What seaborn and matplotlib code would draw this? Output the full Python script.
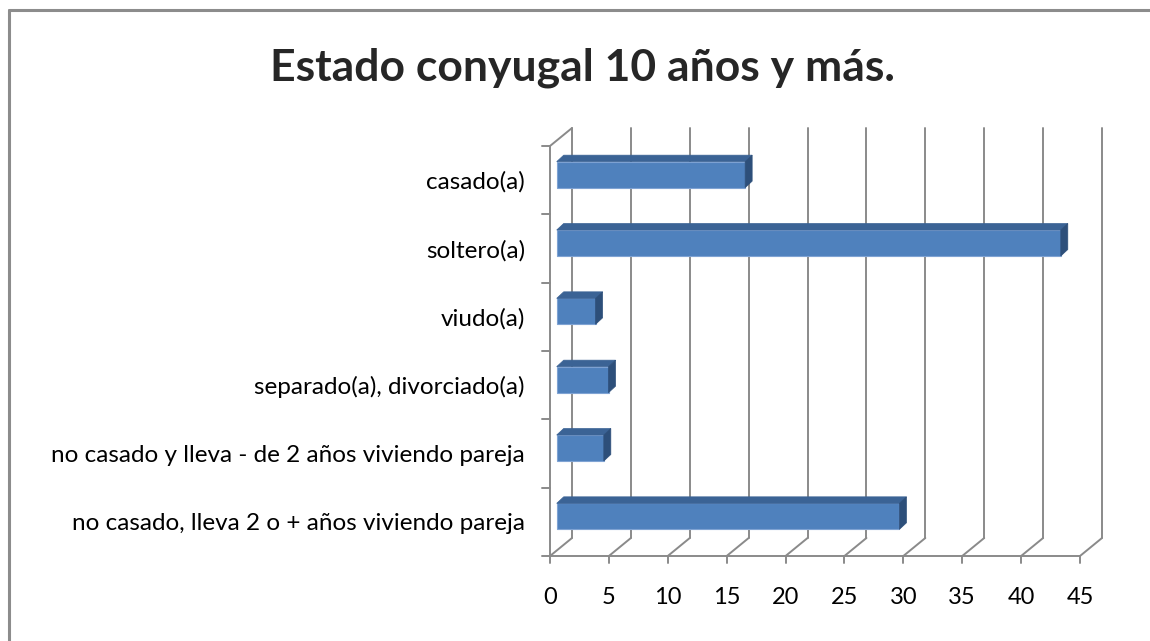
#! /bin/env python3
# pylint: disable=line-too-long,missing-docstring

import matplotlib
matplotlib.use("Agg")
import matplotlib.pyplot as plt
from matplotlib.patches import Polygon
from matplotlib.lines import Line2D
import seaborn as sns

categorias = ["casado(a)", "soltero(a)", "viudo(a)", "separado(a), divorciado(a)",
              "no casado y lleva - de 2 años viviendo pareja",
              "no casado, lleva 2 o + años viviendo pareja"]
valores = [16.0, 42.8, 3.3, 4.4, 4.0, 29.1]
xticks = [0, 5, 10, 15, 20, 25, 30, 35, 40, 45]

sns.set_style("white")
plt.rcParams["font.family"] = ["Lato", "DejaVu Sans"]

W, H = 1150, 641
fig = plt.figure(figsize=(W / 100, H / 100), dpi=100)

# plot box in pixels (front axis 0..45 -> 550..1080, back wall up to 1102)
L, R, B, T = 550, 1102, 556, 128
ax = fig.add_axes([L / W, 1 - B / H, (R - L) / W, (B - T) / H])
px_x = (1080 - 550) / 45.0
px_y = (556 - 146) / 6.0

sns.barplot(x=valores, y=categorias, orient="h", color="#4F81BD", width=26 / px_y,
            saturation=1, ax=ax, zorder=3)
ax.set_xlim(0, (R - L) / px_x)
ax.set_ylim(5.5, 5.5 - (B - T) / px_y)

dx, dy = 22 / px_x, 18 / px_y   # depth of the back wall
grid_kw = dict(color="#8a8a8a", lw=1.4, clip_on=False, zorder=1)
ybot, ytop = 5.5, -0.5
for v in xticks:
    ax.plot([v + dx, v + dx], [ybot - dy, ytop - dy], **grid_kw)
    ax.plot([v, v + dx], [ybot, ybot - dy], **grid_kw)
    ax.plot([v, v], [ybot, ybot + 7 / px_y], **grid_kw)
# left side wall and floor front edge
ax.plot([0, 0], [ybot, ytop], **grid_kw)
ax.plot([0, dx], [ytop, ytop - dy], **grid_kw)
ax.plot([0, xticks[-1]], [ybot, ybot], **grid_kw)
for k in range(len(categorias) + 1):
    ax.plot([-8 / px_x, 0], [k - 0.5, k - 0.5], **grid_kw)

off_x, off_y = 6.7 / px_x, -5.5 / px_y
d, e = 7 / px_x, 6.5 / px_y
for p in list(ax.patches):
    p.set_x(p.get_x() + off_x)
    p.set_y(p.get_y() + off_y)
    p.set_edgecolor("#7FA3D3")
    p.set_linewidth(0.8)
    x0, x1 = p.get_x(), p.get_x() + p.get_width()
    y0, y1 = p.get_y(), p.get_y() + p.get_height()
    ax.add_patch(Polygon([(x0, y0), (x1, y0), (x1 + d, y0 - e), (x0 + d, y0 - e)],
                         closed=True, fc="#3B6395", ec="#3B6395", lw=0.5, zorder=3))
    ax.add_patch(Polygon([(x1, y0), (x1, y1), (x1 + d, y1 - e), (x1 + d, y0 - e)],
                         closed=True, fc="#2D4F7A", ec="#2D4F7A", lw=0.5, zorder=3))

sns.despine(ax=ax, left=True, bottom=True)
ax.set_xticks(xticks)
ax.set_xticklabels([str(v) for v in xticks])
ax.set_yticks(range(len(categorias)))
ax.set_yticklabels(categorias)
ax.tick_params(axis="y", length=0, pad=18, labelsize=17.5, colors="black")
ax.tick_params(axis="x", length=0, pad=22, labelsize=17, colors="black")
ax.set_xlabel("")
ax.set_ylabel("")
ax.set_xlim(0, (R - L) / px_x)
ax.set_ylim(5.5, 5.5 - (B - T) / px_y)
ax.patch.set_alpha(0)

fig.text(582 / W, 1 - 68 / H, "Estado conyugal 10 años y más.", ha="center", va="center",
         fontsize=32, fontweight="bold")

# chart area border
bx, by = 8.5 / W, 1 - 9.5 / H
fig.add_artist(Line2D([bx, bx], [0, by], color="#8c8c8c", lw=2.2))
fig.add_artist(Line2D([bx, 1], [by, by], color="#8c8c8c", lw=2.2))

fig.savefig("out.png", dpi=100)
